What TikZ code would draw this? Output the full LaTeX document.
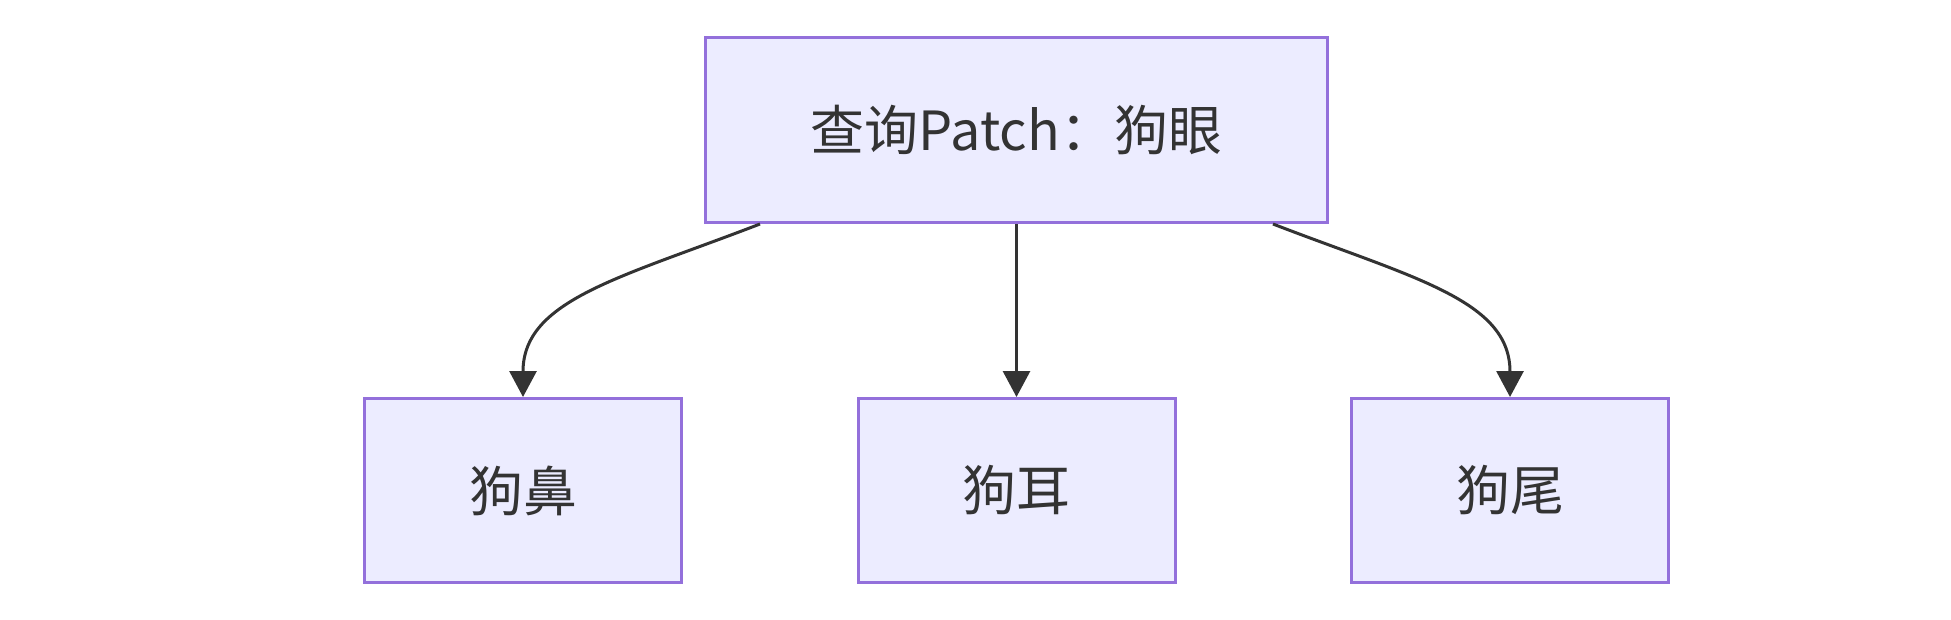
\documentclass[tikz,border=0pt]{standalone}
\usepackage{fontspec}
\setmainfont{Noto Sans CJK SC}
\usetikzlibrary{arrows.meta}
\definecolor{boxfill}{HTML}{ECECFF}
\definecolor{boxline}{HTML}{9370DB}
\definecolor{ink}{HTML}{333333}
\tikzset{
  box/.style={draw=boxline, fill=boxfill, line width=3pt, text=ink,
    font=\fontsize{54}{62}\selectfont, inner sep=0pt},
  topbox/.style={box, minimum width=622pt, minimum height=185pt},
  leafbox/.style={box, minimum width=317pt, minimum height=184pt},
  link/.style={draw=ink, line width=3pt, -{Triangle[length=26pt, width=27pt]}}
}
\begin{document}
\begin{tikzpicture}[x=1pt, y=-1pt]
\useasboundingbox (0,0) rectangle (1951,619);
\node[topbox] (q) at (1016.5,130) {查询Patch：狗眼};
\node[leafbox] (nose) at (523,490.5) {狗鼻};
\node[leafbox] (ear) at (1016.5,490.5) {狗耳};
\node[leafbox] (tail) at (1510,490.5) {狗尾};
\draw[link] ([xshift=-256.5pt]q.south) .. controls +(-140,54) and +(0,-97) .. (nose.north);
\draw[link] (q.south) -- (ear.north);
\draw[link] ([xshift=256.5pt]q.south) .. controls +(140,54) and +(0,-97) .. (tail.north);
\end{tikzpicture}
\end{document}
